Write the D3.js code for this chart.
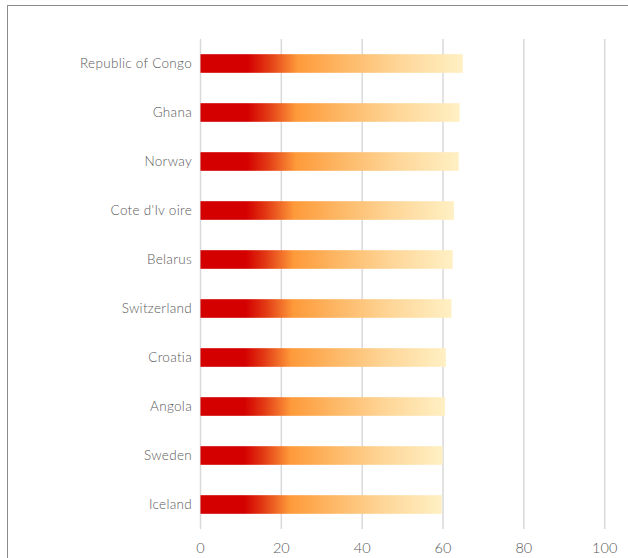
<!DOCTYPE html>
<html>
<head>
<meta charset="utf-8">
<script src="https://cdn.jsdelivr.net/npm/d3@7/dist/d3.min.js"></script>
<style>
  html, body { margin: 0; padding: 0; background: #fff; }
  svg { display: block; }
  text { font-family: "Lato", "Noto Sans", sans-serif; font-weight: 300; fill: #595959; }
</style>
</head>
<body>
<svg id="chart" width="628" height="558"></svg>
<script>
// Countries, top to bottom
const countries = ["Republic of Congo", "Ghana", "Norway", "Cote d'Iv oire", "Belarus",
                   "Switzerland", "Croatia", "Angola", "Sweden", "Iceland"];
// Value per country
const values = [64.9, 64.1, 63.9, 62.7, 62.4, 62.1, 60.7, 60.5, 59.9, 59.7];
// Axis ticks
const ticks = [0, 20, 40, 60, 80, 100];

const svg = d3.select("#chart");

// Outer frame (top and left edges visible)
svg.append("rect")
  .attr("x", 7.5).attr("y", 5.5)
  .attr("width", 700).attr("height", 700)
  .attr("fill", "none").attr("stroke", "#8c8c8c").attr("stroke-width", 1);

const x = d3.scaleLinear().domain([0, 100]).range([200.5, 604.7]);
const y = d3.scaleBand().domain(countries).range([39, 529]).paddingInner(0.62).paddingOuter(0.31);

// Bar fill gradient, stretched over each bar
const defs = svg.append("defs");
const grad = defs.append("linearGradient").attr("id", "barGrad")
  .attr("x1", "0%").attr("x2", "100%").attr("y1", "0%").attr("y2", "0%");
[
  [0, "#d40000"], [0.18, "#d40000"], [0.26, "#e23a14"], [0.37, "#fe9a3a"],
  [0.55, "#fdb866"], [0.75, "#fed596"], [1, "#fff0c4"]
].forEach(([o, c]) => grad.append("stop").attr("offset", o).attr("stop-color", c));

// Vertical gridlines
svg.append("g").selectAll("line").data(ticks).join("line")
  .attr("x1", d => x(d)).attr("x2", d => x(d))
  .attr("y1", 39).attr("y2", 529)
  .attr("stroke", "#d9d9d9").attr("stroke-width", 1.5);

// Bars
svg.append("g").selectAll("rect").data(countries).join("rect")
  .attr("x", x(0))
  .attr("y", d => y(d))
  .attr("width", (d, i) => x(values[i]) - x(0))
  .attr("height", y.bandwidth())
  .attr("fill", "url(#barGrad)");

// Category labels
svg.append("g").selectAll("text").data(countries).join("text")
  .attr("x", 192)
  .attr("y", d => y(d) + y.bandwidth() / 2)
  .attr("dy", "0.35em")
  .attr("text-anchor", "end")
  .style("font-size", "13.5px")
  .style("letter-spacing", "0.3px")
  .text(d => d);

// X-axis tick labels
svg.append("g").selectAll("text").data(ticks).join("text")
  .attr("x", d => x(d))
  .attr("y", 548)
  .attr("dy", "0.35em")
  .attr("text-anchor", "middle")
  .style("font-size", "14.5px")
  .text(d => d);
</script>
</body>
</html>
